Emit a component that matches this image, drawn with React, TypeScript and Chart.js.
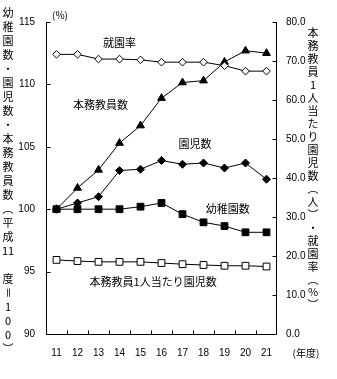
import React, { useEffect, useRef } from 'react';
import { Chart, registerables } from 'chart.js';

Chart.register(...registerables);

// ---- data ----
const years = ['11', '12', '13', '14', '15', '16', '17', '18', '19', '20', '21'];
// left axis (平成11年度 = 100)
const kindergartens = [100, 100, 100, 100, 100.2, 100.5, 99.6, 98.95, 98.65, 98.15, 98.15];
const pupils = [100, 100.5, 101.0, 103.1, 103.2, 103.9, 103.6, 103.7, 103.3, 103.7, 102.4];
const teachers = [100, 101.7, 103.15, 105.3, 106.7, 108.9, 110.15, 110.3, 111.8, 112.7, 112.5];
// right axis
const enrollmentRate = [71.7, 71.7, 70.5, 70.5, 70.3, 69.7, 69.7, 69.7, 68.8, 67.4, 67.4];
const pupilsPerTeacher = [19.0, 18.7, 18.5, 18.5, 18.5, 18.2, 17.9, 17.7, 17.5, 17.5, 17.3];

const leftMin = 90;
const leftMax = 115;
const leftStep = 5;
const rightMin = 0;
const rightMax = 80;
const rightStep = 10;

const leftTitle = ['幼', '稚', '園', '数', '・', '園', '児', '数', '・', '本', '務', '教', '員', '数', '︵', '平', '成', '11', '', '度', '＝', '1', '0', '0', '︶'];
const rightTitle = ['本', '務', '教', '員', '1', '人', '当', 'た', 'り', '園', '児', '数', '︵', '人', '︶', '・', '就', '園', '率', '︵', '%', '︶'];

const seriesLabels = ['就園率', '本務教員数', '園児数', '幼稚園数', '本務教員1人当たり園児数'];
// annotation anchors: [category index, left-axis value]
const annotationX = [3, 2.09, 6.59, 8.15, 4.6];
const annotationY = [113.3, 108.4, 105.27, 100.05, 94.18];

const unitLeft = '(%)';
const unitBottom = '(年度)';

const FONT = '"Noto Sans CJK JP", "DejaVu Sans", sans-serif';
const NUMFONT = '"Liberation Sans", "Noto Sans CJK JP", sans-serif';

function drawVertical(ctx: CanvasRenderingContext2D, items: string[], cx: number, y0: number, step: number) {
  items.forEach((ch, i) => {
    if (!ch) return;
    const y = y0 + i * step;
    if (ch === '＝') {
      ctx.save();
      ctx.translate(cx, y);
      ctx.rotate(Math.PI / 2);
      ctx.fillText(ch, 0, 0);
      ctx.restore();
    } else {
      ctx.fillText(ch, cx, y);
    }
  });
}

const decorPlugin = {
  id: 'decor',
  afterDraw(chart: any) {
    const { ctx, chartArea, scales } = chart;
    const xs = scales.x;
    const yl = scales.y;
    const yr = scales.y1;
    const L = Math.round(chartArea.left) + 0.5;
    const R = Math.round(chartArea.right) - 0.5;
    const B = Math.round(chartArea.bottom) + 0.5;
    ctx.save();
    ctx.strokeStyle = '#000';
    ctx.lineWidth = 1;
    ctx.beginPath();
    // axis lines
    ctx.moveTo(L, Math.round(chartArea.top));
    ctx.lineTo(L, B);
    ctx.lineTo(R, B);
    ctx.lineTo(R, Math.round(chartArea.top));
    // x ticks (category boundaries)
    for (let i = 1; i < years.length; i++) {
      const px = Math.round((xs.getPixelForValue(i - 1) + xs.getPixelForValue(i)) / 2) + 0.5;
      ctx.moveTo(px, B);
      ctx.lineTo(px, B - 4);
    }
    // left ticks
    yl.ticks.forEach((t: any) => {
      const py = Math.round(yl.getPixelForValue(t.value)) + 0.5;
      ctx.moveTo(L, py);
      ctx.lineTo(L + 4, py);
    });
    // right ticks
    yr.ticks.forEach((t: any) => {
      const py = Math.round(yr.getPixelForValue(t.value)) + 0.5;
      ctx.moveTo(R, py);
      ctx.lineTo(R - 4, py);
    });
    ctx.stroke();

    ctx.fillStyle = '#000';
    ctx.font = `11px ${FONT}`;
    ctx.textAlign = 'center';
    ctx.textBaseline = 'middle';
    seriesLabels.forEach((s, i) => {
      ctx.fillText(s, xs.getPixelForValue(annotationX[i]), yl.getPixelForValue(annotationY[i]));
    });
    ctx.font = `10px ${FONT}`;
    ctx.fillText(unitLeft, chartArea.left + 14, chartArea.top - 7);
    ctx.fillText(unitBottom, chartArea.right + 29, chartArea.bottom + 19);

    ctx.font = `11px ${FONT}`;
    drawVertical(ctx, leftTitle, 8, 12.7, 14);
    drawVertical(ctx, rightTitle, chartArea.right + 36, 33.3, 12.95);
    ctx.restore();
  },
};

export default function App() {
  const ref = useRef<HTMLCanvasElement>(null);
  useEffect(() => {
    if (!ref.current) return;
    const base = {
      borderColor: '#000',
      borderWidth: 1,
      pointBorderColor: '#000',
      pointBorderWidth: 1,
      tension: 0,
      fill: false,
    };
    const tickFont = { family: NUMFONT, size: 10 };
    const noGrid = { display: false, drawTicks: false };
    const chart = new Chart(ref.current, {
      type: 'line',
      data: {
        labels: years,
        datasets: [
          { ...base, label: seriesLabels[0], data: enrollmentRate, yAxisID: 'y1', pointStyle: 'rectRot', pointRadius: 3.8, pointBackgroundColor: '#fff' },
          { ...base, label: seriesLabels[1], data: teachers, yAxisID: 'y', pointStyle: 'triangle', pointRadius: 4.5, pointBackgroundColor: '#000' },
          { ...base, label: seriesLabels[2], data: pupils, yAxisID: 'y', pointStyle: 'rectRot', pointRadius: 4, pointBackgroundColor: '#000' },
          { ...base, label: seriesLabels[3], data: kindergartens, yAxisID: 'y', pointStyle: 'rect', pointRadius: 4.8, pointBackgroundColor: '#000' },
          { ...base, label: seriesLabels[4], data: pupilsPerTeacher, yAxisID: 'y1', pointStyle: 'rect', pointRadius: 4.8, pointBackgroundColor: '#fff' },
        ] as any,
      },
      options: {
        responsive: false,
        animation: false,
        devicePixelRatio: 1,
        layout: { padding: { top: 22, left: 0, right: 0, bottom: 0 } },
        plugins: { legend: { display: false }, tooltip: { enabled: false } },
        scales: {
          x: {
            type: 'category',
            offset: true,
            grid: noGrid,
            border: { display: false },
            ticks: { color: '#000', font: tickFont, padding: 13, maxRotation: 0 },
            afterFit: (s: any) => { s.height = 45; },
          },
          y: {
            type: 'linear',
            position: 'left',
            min: leftMin,
            max: leftMax,
            grid: noGrid,
            border: { display: false },
            ticks: { stepSize: leftStep, color: '#000', font: tickFont, padding: 11 },
            afterFit: (s: any) => { s.width = 46; },
          },
          y1: {
            type: 'linear',
            position: 'right',
            min: rightMin,
            max: rightMax,
            grid: noGrid,
            border: { display: false },
            ticks: { stepSize: rightStep, color: '#000', font: tickFont, padding: 9, callback: (v: any) => Number(v).toFixed(1) },
            afterFit: (s: any) => { s.width = 60; },
          },
        },
      } as any,
      plugins: [decorPlugin],
    });
    return () => chart.destroy();
  }, []);
  return (
    <div style={{ position: 'absolute', left: 0, top: 0, width: 337, height: 379, background: '#fff' }}>
      <canvas ref={ref} width={337} height={379} />
    </div>
  );
}
